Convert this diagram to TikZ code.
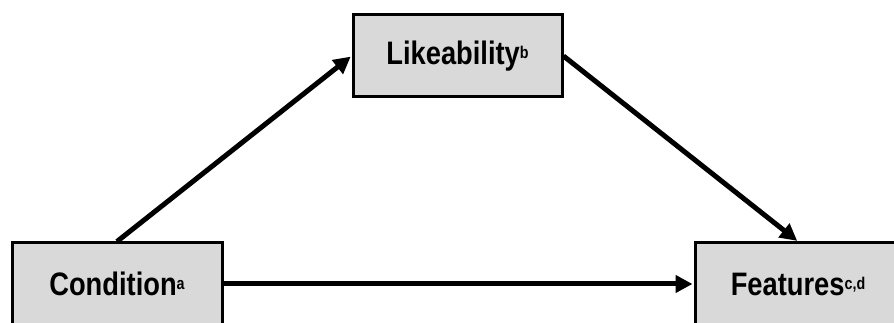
\documentclass[tikz,border=0pt]{standalone}
\usepackage{fontspec}
\setmainfont{Liberation Sans}[FakeStretch=0.84]
\usetikzlibrary{arrows.meta}
\definecolor{boxgray}{HTML}{D9D9D9}
\newcommand\supmark[1]{\raisebox{6pt}{\fontsize{17}{17}\selectfont\bfseries #1}}
\tikzset{
  box/.style={draw=black, line width=3pt, fill=boxgray, minimum height=82pt,
    inner sep=0pt, font=\fontsize{32.5}{32}\selectfont\bfseries},
  conn/.style={line width=5pt, -{Triangle[length=17pt,width=17pt]}, shorten >=1pt}
}
\begin{document}
\begin{tikzpicture}[x=1pt,y=1pt]
\useasboundingbox (0,0) rectangle (894,323);
\fill[white] (0,0) rectangle (894,323);
\node[box, minimum width=210pt] (cond) at (117,39) {Condition\supmark{a}};
\node[box, minimum width=209pt] (like) at (457.5,267) {Likeability\supmark{b}};
\node[box, minimum width=206pt] (feat) at (798,39) {Features\supmark{c,d}};
\draw[conn] (cond.north) -- (like.west);
\draw[conn] (like.east) -- (feat.north);
\draw[conn] (cond.east) -- (feat.west);
\end{tikzpicture}
\end{document}
